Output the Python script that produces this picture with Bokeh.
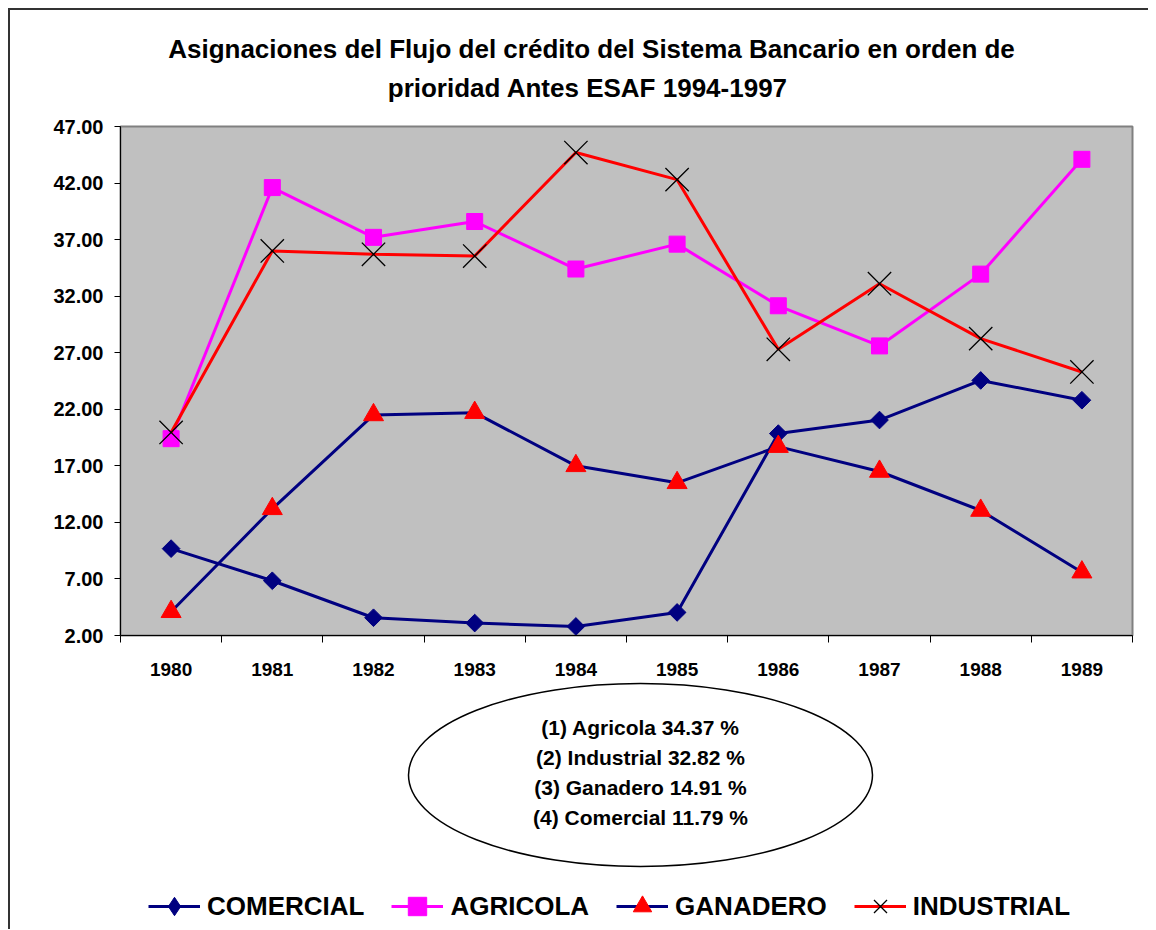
import numpy as np
from bokeh.plotting import figure
from bokeh.layouts import column
from bokeh.models import (Legend, LegendItem, FixedTicker, NumeralTickFormatter, Range1d)
from bokeh.core.properties import value
from bokeh.embed import file_html
from bokeh.resources import INLINE

# ---- data ----
years = [1980, 1981, 1982, 1983, 1984, 1985, 1986, 1987, 1988, 1989]
comercial = [9.68, 6.84, 3.57, 3.10, 2.80, 4.04, 19.85, 21.05, 24.55, 22.80]
agricola = [19.40, 41.60, 37.20, 38.60, 34.40, 36.60, 31.15, 27.60, 33.95, 44.10]
ganadero = [4.10, 13.20, 21.50, 21.70, 17.00, 15.50, 18.70, 16.50, 13.05, 7.60]
industrial = [19.95, 36.00, 35.70, 35.55, 44.70, 42.30, 27.30, 33.10, 28.25, 25.30]
y_ticks = [2, 7, 12, 17, 22, 27, 32, 37, 42, 47]
title_lines = ["Asignaciones del Flujo del crédito del Sistema Bancario en orden de",
               "prioridad Antes  ESAF 1994-1997"]
summary_lines = ["(1) Agricola 34.37 %", "(2) Industrial 32.82 %",
                 "(3) Ganadero 14.91 %", "(4) Comercial 11.79 %"]
series_names = ["COMERCIAL", "AGRICOLA", "GANADERO", "INDUSTRIAL"]

FONT = "Liberation Sans"
W = 1138
BL, BR = 110, 16          # left / right borders (frame spans page x 120..1132)
NAVY, MAGENTA, RED = "#000080", "#FF00FF", "#FF0000"


def blank(height, y_top):
    # frame spans page x 120..1132 and page y y_top..y_top+height (1 unit = 1 px)
    f = figure(width=W, height=height, output_backend="svg", toolbar_location=None,
               x_range=Range1d(120, 1132), y_range=Range1d(y_top + height, y_top),
               min_border_left=BL, min_border_right=BR,
               min_border_top=0, min_border_bottom=0)
    f.title.visible = False
    f.axis.visible = False
    f.grid.visible = False
    f.outline_line_color = None
    f.background_fill_color = "white"
    f.border_fill_color = "white"
    return f


# ---- title panel (page y 10..110) ----
p0 = blank(100, 10)
p0.text(x=[591, 591], y=[48, 87], text=title_lines, text_align="center",
        text_baseline="middle", text_font=value(FONT), text_font_style="bold",
        text_font_size="26px", text_color="black")

# ---- main chart (page y 110..681) ----
p = figure(width=W, height=571, output_backend="svg", toolbar_location=None,
           x_range=Range1d(years[0] - 0.5, years[-1] + 0.5),
           y_range=Range1d(y_ticks[0], y_ticks[-1]),
           min_border_left=BL, min_border_top=16, min_border_right=BR,
           min_border_bottom=46)
p.title.visible = False
p.background_fill_color = "#C0C0C0"
p.border_fill_color = "white"
p.outline_line_color = "#808080"
p.outline_line_width = 2
p.xgrid.visible = False
p.ygrid.visible = False

p.yaxis.ticker = FixedTicker(ticks=y_ticks)
p.yaxis.formatter = NumeralTickFormatter(format="0.00")
p.yaxis.major_tick_out = 6
p.yaxis.major_tick_in = 0
p.yaxis.minor_tick_out = 0
p.yaxis.minor_tick_in = 0
p.yaxis.major_label_standoff = 11
p.xaxis.ticker = FixedTicker(ticks=years, minor_ticks=[y - 0.5 for y in years] + [years[-1] + 0.5])
p.xaxis.major_tick_out = 0
p.xaxis.major_tick_in = 0
p.xaxis.minor_tick_out = 7
p.xaxis.minor_tick_in = 0
p.xaxis.major_label_standoff = 20
p.xaxis.major_label_overrides = {y: str(y) for y in years}
for ax in (p.xaxis, p.yaxis):
    ax.axis_line_color = "black"
    ax.axis_line_width = 1
    ax.major_tick_line_color = "black"
    ax.minor_tick_line_color = "black"
    ax.major_label_text_font = FONT
    ax.major_label_text_font_style = "bold"
    ax.major_label_text_color = "black"
p.xaxis.major_label_text_font_size = "19px"
p.yaxis.major_label_text_font_size = "20px"


def draw_series(fig, xs, c, a, g, ind, swatch=False):
    r = []
    r.append(fig.line(xs, c, line_color=NAVY, line_width=3))
    if swatch:
        r.append(fig.scatter(xs, c, marker="diamond", size=18, fill_color=NAVY, line_color=NAVY))
    else:
        r.append(fig.scatter(xs, c, marker="square", angle=np.pi / 4, size=12.5,
                             fill_color=NAVY, line_color=NAVY))
    r.append(fig.line(xs, a, line_color=MAGENTA, line_width=3))
    r.append(fig.scatter(xs, a, marker="square", size=16, fill_color=MAGENTA, line_color=MAGENTA))
    r.append(fig.line(xs, g, line_color=NAVY, line_width=3))
    r.append(fig.scatter(xs, g, marker="triangle", size=20, fill_color=RED, line_color=RED))
    r.append(fig.line(xs, ind, line_color=RED, line_width=3))
    r.append(fig.scatter(xs, ind, marker="x", size=33, line_color="black", line_width=1.3))
    return r


draw_series(p, years, comercial, agricola, ganadero, industrial)

# ---- bottom panel: summary ellipse and legend (page y 681..929) ----
p2 = blank(248, 681)
p2.ellipse(x=[640], y=[774.5], width=464, height=183, width_units="screen",
           height_units="screen", fill_alpha=0, line_color="black", line_width=1.5)
p2.text(x=[640] * len(summary_lines), y=[727, 757, 787, 817], text=summary_lines,
        text_align="center", text_baseline="middle", text_font=value(FONT),
        text_font_style="bold", text_font_size="21px", text_color="black")
# legend swatches: same series drawn with the same styles; they fall outside this
# panel's visible range, so only their legend glyphs show
sw = draw_series(p2, years, comercial, agricola, ganadero, industrial, swatch=True)
legend = Legend(items=[LegendItem(label=series_names[0], renderers=sw[0:2]),
                       LegendItem(label=series_names[1], renderers=sw[2:4]),
                       LegendItem(label=series_names[2], renderers=sw[4:6]),
                       LegendItem(label=series_names[3], renderers=sw[6:8])],
                location=(28, 0), orientation="horizontal", padding=0, margin=0,
                spacing=27, label_standoff=7, glyph_width=52, glyph_height=46,
                border_line_alpha=0, background_fill_alpha=0,
                label_text_font=FONT, label_text_font_style="bold",
                label_text_font_size="26px", label_text_color="black",
                label_text_baseline="middle")
p2.add_layout(legend)

layout = column(p0, p, p2, spacing=0)
layout.styles = {"margin-left": "8px", "margin-top": "8px",
                 "border-left": "2px solid #333333", "border-top": "2px solid #333333"}

open("out.html", "w").write(file_html(layout, INLINE))
